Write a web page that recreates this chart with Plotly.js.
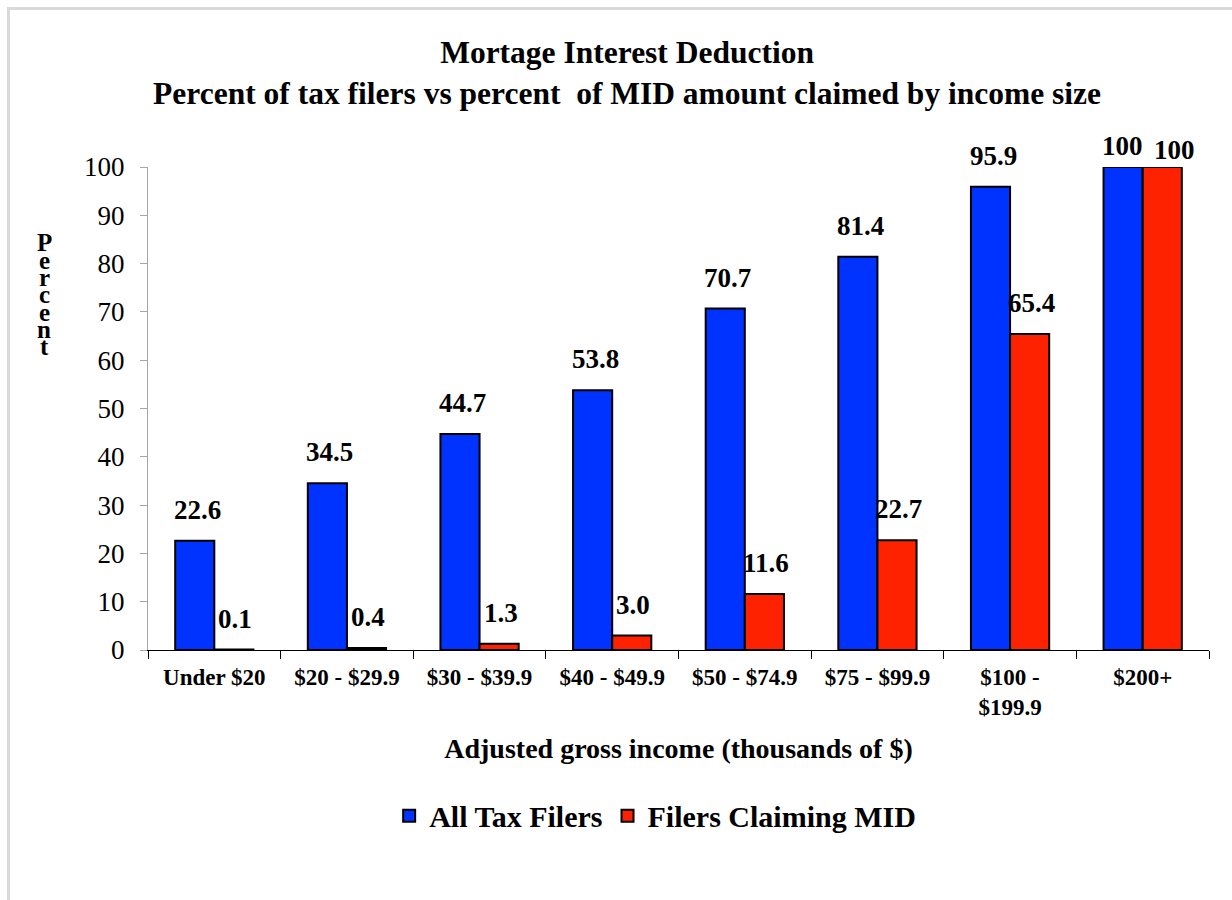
<!DOCTYPE html>
<html>
<head>
<meta charset="utf-8">
<script src="https://cdn.plot.ly/plotly-3.0.1.min.js"></script>
<style>
  html, body { margin: 0; padding: 0; background: #fff; }
  #wrap { position: relative; width: 1232px; height: 900px; overflow: hidden; }
  #chart { position: absolute; left: 0; top: 0; width: 1232px; height: 900px; }
  #frame { position: absolute; left: 7px; top: 7px; width: 1300px; height: 1000px;
           border-top: 3px solid #d9d9d9; border-left: 3px solid #d9d9d9; pointer-events: none; }
</style>
</head>
<body>
<div id="wrap">
  <div id="chart"></div>
  <div id="frame"></div>
</div>
<script>
const categories = ["Under $20", "$20 - $29.9", "$30 - $39.9", "$40 - $49.9", "$50 - $74.9", "$75 - $99.9", "$100 -<br>$199.9", "$200+"];
const allTaxFilers = [22.6, 34.5, 44.7, 53.8, 70.7, 81.4, 95.9, 100];
const filersClaimingMID = [0.1, 0.4, 1.3, 3.0, 11.6, 22.7, 65.4, 100];
const seriesNames = ["All Tax Filers", "Filers Claiming MID"];
const yTitleLetters = ["P", "e", "r", "c", "e", "n", "t"];

const serif = "Liberation Serif, Times New Roman, serif";
const fmt = v => (v === 100 ? "100" : v.toFixed(1));

const traces = [
  { type: "bar", name: seriesNames[0], x: categories, y: allTaxFilers,
    marker: { color: "#0033ff", line: { color: "#000", width: 2 } }, hoverinfo: "y" },
  { type: "bar", name: seriesNames[1], x: categories, y: filersClaimingMID,
    marker: { color: "#ff2200", line: { color: "#000", width: 2 } }, hoverinfo: "y" }
];

const annotations = [];
const labelFont = { family: serif, size: 27, color: "#000" };
allTaxFilers.forEach((v, i) => annotations.push({
  xref: "x", yref: "y", x: categories[i], y: v, xshift: v === 100 ? -20 : -17, yshift: v === 100 ? 4 : 14,
  yanchor: "bottom", showarrow: false, text: "<b>" + fmt(v) + "</b>", font: labelFont
}));
filersClaimingMID.forEach((v, i) => annotations.push({
  xref: "x", yref: "y", x: categories[i], y: v, xshift: v === 100 ? 32 : 21, yshift: v === 100 ? 0 : 14,
  yanchor: "bottom", showarrow: false, text: "<b>" + fmt(v) + "</b>", font: labelFont
}));
yTitleLetters.forEach((ch, i) => annotations.push({
  xref: "paper", yref: "paper", x: -0.098, y: 0.843, yshift: -i * 17.3,
  xanchor: "center", yanchor: "middle", showarrow: false,
  text: "<b>" + ch + "</b>", font: { family: serif, size: 25, color: "#000" }
}));

const layout = {
  width: 1232, height: 900,
  paper_bgcolor: "#fff", plot_bgcolor: "#fff",
  margin: { l: 148, r: 23, t: 167, b: 250 },
  font: { family: serif, color: "#000" },
  title: {
    text: "<b>Mortage Interest Deduction<br>Percent of tax filers vs percent  of MID amount claimed by income size</b>",
    font: { family: serif, size: 31.5, color: "#000" },
    x: 0.509, xanchor: "center", xref: "container", y: 0.93, yanchor: "top"
  },
  barmode: "group", bargap: 0.41, bargroupgap: 0,
  showlegend: true,
  legend: {
    orientation: "h", x: 0.478, xanchor: "center", y: -0.343, yanchor: "middle",
    font: { family: serif, size: 30, color: "#000", weight: "bold" },
    itemsizing: "constant", traceorder: "normal", itemwidth: 30
  },
  xaxis: {
    type: "category", showgrid: false, zeroline: false,
    showline: true, linecolor: "#000", linewidth: 1,
    ticks: "outside", tickson: "boundaries", ticklen: 8, tickcolor: "#000",
    tickfont: { family: serif, size: 23, color: "#000", weight: "bold" },
    ticklabelstandoff: 6,
    title: { text: "<b>Adjusted gross income (thousands of $)</b>",
             font: { family: serif, size: 28, color: "#000" }, standoff: 19 }
  },
  yaxis: {
    range: [0, 100], dtick: 10, showgrid: false, zeroline: false,
    showline: true, linecolor: "#a6a6a6", linewidth: 1,
    ticks: "outside", ticklen: 7, tickcolor: "#a6a6a6",
    tickfont: { family: serif, size: 27, color: "#000" },
    ticklabelstandoff: 10
  },
  annotations: annotations
};

Plotly.newPlot("chart", traces, layout, { displayModeBar: false, staticPlot: true });
</script>
</body>
</html>
